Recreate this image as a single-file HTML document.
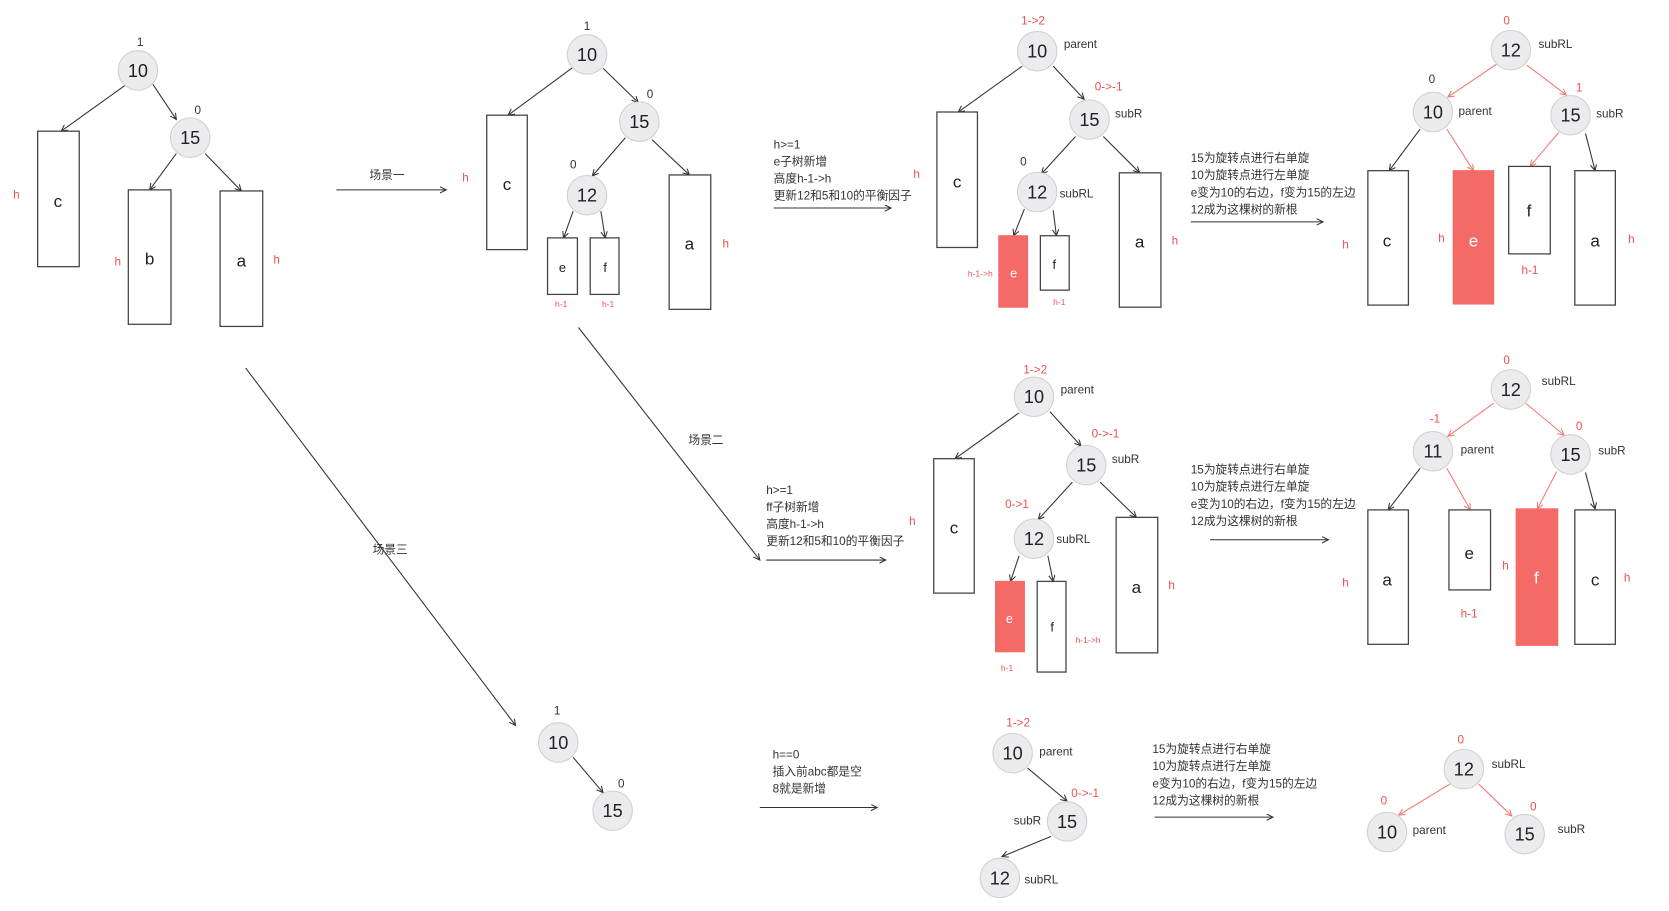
<!DOCTYPE html>
<html><head><meta charset="utf-8"><style>
html,body{margin:0;padding:0;background:#fff;}
svg{display:block;}
text{font-family:"Liberation Sans","Noto Sans CJK SC",sans-serif;}
.n{fill:#ececee;stroke:#d0d0d0;stroke-width:1;}
.nt{font-size:17px;fill:#222;text-anchor:middle;}
.r{fill:#fff;stroke:#444;stroke-width:1.2;}
.rr{fill:#f46a66;stroke:#f46a66;stroke-width:1;}
.lt{font-size:16px;fill:#222;text-anchor:middle;}
.lw{font-size:16px;fill:#fff;text-anchor:middle;}
.s{font-size:11px;fill:#333;}
.sr{font-size:11px;fill:#f05050;}
.xs{font-size:8px;fill:#f05050;}
.tx{font-size:11px;fill:#333;}
.k{stroke:#333;stroke-width:1;fill:none;marker-end:url(#ak);}
.kr{stroke:#f47a76;stroke-width:1;fill:none;marker-end:url(#ar);}
</style></head><body>
<svg width="1669" height="911" viewBox="0 0 1564 854" xmlns="http://www.w3.org/2000/svg">
<defs>
<marker id="ak" markerWidth="8" markerHeight="8" refX="6" refY="3" orient="auto" markerUnits="userSpaceOnUse"><path d="M0,0 L6,3 L0,6" fill="none" stroke="#333" stroke-width="1"/></marker>
<marker id="ar" markerWidth="8" markerHeight="8" refX="6" refY="3" orient="auto" markerUnits="userSpaceOnUse"><path d="M0,0 L6,3 L0,6" fill="none" stroke="#f47a76" stroke-width="1"/></marker>
</defs>

<!-- Tree 1 -->
<line class="k" x1="117" y1="80" x2="57" y2="123"/>
<line class="k" x1="143" y1="79" x2="165" y2="112"/>
<line class="k" x1="165" y1="144" x2="140" y2="178"/>
<line class="k" x1="192" y1="144" x2="226" y2="179"/>
<text class="s" x="128" y="43">1</text>
<circle class="n" cx="129" cy="66" r="18.5"/><text class="nt" x="129" y="72">10</text>
<text class="s" x="182" y="107">0</text>
<circle class="n" cx="178" cy="129" r="18.5"/><text class="nt" x="178" y="135">15</text>
<rect class="r" x="35" y="123" width="39" height="127"/><text class="lt" x="54" y="194">c</text>
<text class="sr" x="12" y="186">h</text>
<rect class="r" x="120" y="178" width="40" height="126"/><text class="lt" x="140" y="248">b</text>
<text class="sr" x="107" y="249">h</text>
<rect class="r" x="206" y="179" width="40" height="127"/><text class="lt" x="226" y="250">a</text>
<text class="sr" x="256" y="247">h</text>

<line class="k" x1="315" y1="178" x2="418" y2="178"/>
<text class="tx" x="346" y="168">场景一</text>

<!-- Tree 2 -->
<line class="k" x1="537" y1="63" x2="476" y2="108"/>
<line class="k" x1="565" y1="64" x2="598" y2="96"/>
<line class="k" x1="586" y1="129" x2="555" y2="165"/>
<line class="k" x1="611" y1="131" x2="646" y2="164"/>
<line class="k" x1="537" y1="198" x2="528" y2="223"/>
<line class="k" x1="563" y1="198" x2="567" y2="223"/>
<text class="s" x="547" y="28">1</text>
<circle class="n" cx="550" cy="51" r="18.5"/><text class="nt" x="550" y="57">10</text>
<text class="s" x="606" y="92">0</text>
<circle class="n" cx="599" cy="114" r="18.5"/><text class="nt" x="599" y="120">15</text>
<text class="s" x="534" y="158">0</text>
<circle class="n" cx="550" cy="183" r="18.5"/><text class="nt" x="550" y="189">12</text>
<rect class="r" x="456" y="108" width="38" height="126"/><text class="lt" x="475" y="178">c</text>
<text class="sr" x="433" y="170">h</text>
<rect class="r" x="513" y="223" width="28" height="53"/><text class="lt" x="527" y="255" style="font-size:12px">e</text>
<text class="xs" x="520" y="288">h-1</text>
<rect class="r" x="553" y="223" width="27" height="53"/><text class="lt" x="567" y="255" style="font-size:12px">f</text>
<text class="xs" x="564" y="288">h-1</text>
<rect class="r" x="627" y="164" width="39" height="126"/><text class="lt" x="646" y="234">a</text>
<text class="sr" x="677" y="232">h</text>

<g class="tx"><text x="725" y="139">h&gt;=1</text><text x="725" y="155">e子树新增</text><text x="725" y="171">高度h-1-&gt;h</text><text x="725" y="187">更新12和5和10的平衡因子</text></g>
<line class="k" x1="725" y1="195" x2="835" y2="195"/>

<!-- Tree 3 -->
<line class="k" x1="958" y1="62" x2="898" y2="105"/>
<line class="k" x1="987" y1="62" x2="1016" y2="93"/>
<line class="k" x1="1008" y1="128" x2="976" y2="163"/>
<line class="k" x1="1034" y1="128" x2="1068" y2="162"/>
<line class="k" x1="960" y1="196" x2="950" y2="221"/>
<line class="k" x1="987" y1="197" x2="990" y2="221"/>
<text class="sr" x="957" y="23">1-&gt;2</text>
<circle class="n" cx="972" cy="48" r="18.5"/><text class="nt" x="972" y="54">10</text>
<text class="s" x="997" y="45">parent</text>
<text class="sr" x="1026" y="85">0-&gt;-1</text>
<circle class="n" cx="1021" cy="112" r="18.5"/><text class="nt" x="1021" y="118">15</text>
<text class="s" x="1045" y="110">subR</text>
<text class="s" x="956" y="155">0</text>
<circle class="n" cx="972" cy="180" r="18.5"/><text class="nt" x="972" y="186">12</text>
<text class="s" x="993" y="185">subRL</text>
<rect class="r" x="878" y="105" width="38" height="127"/><text class="lt" x="897" y="176">c</text>
<text class="sr" x="856" y="167">h</text>
<rect class="rr" x="936" y="221" width="27" height="67"/><text class="lw" x="950" y="260" style="font-size:12px">e</text>
<text class="xs" x="907" y="259">h-1-&gt;h</text>
<rect class="r" x="975" y="221" width="27" height="51"/><text class="lt" x="988" y="252" style="font-size:12px">f</text>
<text class="xs" x="987" y="286">h-1</text>
<rect class="r" x="1049" y="162" width="39" height="126"/><text class="lt" x="1068" y="232">a</text>
<text class="sr" x="1098" y="229">h</text>

<g class="tx"><text x="1116" y="152">15为旋转点进行右单旋</text><text x="1116" y="168">10为旋转点进行左单旋</text><text x="1116" y="184">e变为10的右边，f变为15的左边</text><text x="1116" y="200">12成为这棵树的新根</text></g>
<line class="k" x1="1116" y1="208" x2="1240" y2="208"/>

<!-- Tree 4 -->
<line class="kr" x1="1403" y1="60" x2="1357" y2="91"/>
<line class="kr" x1="1431" y1="61" x2="1468" y2="89"/>
<line class="k" x1="1331" y1="121" x2="1302" y2="160"/>
<line class="kr" x1="1356" y1="121" x2="1381" y2="160"/>
<line class="kr" x1="1461" y1="124" x2="1434" y2="156"/>
<line class="k" x1="1486" y1="125" x2="1495" y2="160"/>
<text class="sr" x="1409" y="23">0</text>
<circle class="n" cx="1416" cy="47" r="18.5"/><text class="nt" x="1416" y="53">12</text>
<text class="s" x="1442" y="45">subRL</text>
<text class="s" x="1339" y="78">0</text>
<circle class="n" cx="1343" cy="105" r="18.5"/><text class="nt" x="1343" y="111">10</text>
<text class="s" x="1367" y="108">parent</text>
<text class="sr" x="1477" y="86">1</text>
<circle class="n" cx="1472" cy="108" r="18.5"/><text class="nt" x="1472" y="114">15</text>
<text class="s" x="1496" y="110">subR</text>
<rect class="r" x="1282" y="160" width="38" height="126"/><text class="lt" x="1300" y="231">c</text>
<text class="sr" x="1258" y="233">h</text>
<rect class="rr" x="1362" y="160" width="38" height="125"/><text class="lw" x="1381" y="231">e</text>
<text class="sr" x="1348" y="227">h</text>
<rect class="r" x="1414" y="156" width="39" height="82"/><text class="lt" x="1433" y="203">f</text>
<text class="sr" x="1426" y="257">h-1</text>
<rect class="r" x="1476" y="160" width="38" height="126"/><text class="lt" x="1495" y="231">a</text>
<text class="sr" x="1526" y="228">h</text>

<!-- scene 2 diagonal -->
<line class="k" x1="542" y1="307" x2="712" y2="525"/>
<text class="tx" x="645" y="416">场景二</text>

<!-- Tree 5 -->
<line class="k" x1="955" y1="387" x2="895" y2="430"/>
<line class="k" x1="984" y1="386" x2="1013" y2="418"/>
<line class="k" x1="1005" y1="452" x2="973" y2="487"/>
<line class="k" x1="1031" y1="452" x2="1065" y2="485"/>
<line class="k" x1="955" y1="521" x2="947" y2="545"/>
<line class="k" x1="982" y1="521" x2="987" y2="545"/>
<text class="sr" x="959" y="350">1-&gt;2</text>
<circle class="n" cx="969" cy="372" r="18.5"/><text class="nt" x="969" y="378">10</text>
<text class="s" x="994" y="369">parent</text>
<text class="sr" x="1023" y="410">0-&gt;-1</text>
<circle class="n" cx="1018" cy="436" r="18.5"/><text class="nt" x="1018" y="442">15</text>
<text class="s" x="1042" y="434">subR</text>
<text class="sr" x="942" y="476">0-&gt;1</text>
<circle class="n" cx="969" cy="505" r="18.5"/><text class="nt" x="969" y="511">12</text>
<text class="s" x="990" y="509">subRL</text>
<rect class="r" x="875" y="430" width="38" height="126"/><text class="lt" x="894" y="500">c</text>
<text class="sr" x="852" y="492">h</text>
<rect class="rr" x="933" y="545" width="27" height="66"/><text class="lw" x="946" y="584" style="font-size:12px">e</text>
<text class="xs" x="938" y="629">h-1</text>
<rect class="r" x="972" y="545" width="27" height="85"/><text class="lt" x="986" y="592" style="font-size:12px">f</text>
<text class="xs" x="1008" y="603">h-1-&gt;h</text>
<rect class="r" x="1046" y="485" width="39" height="127"/><text class="lt" x="1065" y="556">a</text>
<text class="sr" x="1095" y="552">h</text>

<g class="tx"><text x="718" y="463">h&gt;=1</text><text x="718" y="479">ff子树新增</text><text x="718" y="495">高度h-1-&gt;h</text><text x="718" y="511">更新12和5和10的平衡因子</text></g>
<line class="k" x1="718" y1="525" x2="830" y2="525"/>

<g class="tx"><text x="1116" y="444">15为旋转点进行右单旋</text><text x="1116" y="460">10为旋转点进行左单旋</text><text x="1116" y="476">e变为10的右边，f变为15的左边</text><text x="1116" y="492">12成为这棵树的新根</text></g>
<line class="k" x1="1134" y1="506" x2="1245" y2="506"/>

<!-- Tree 6 -->
<line class="kr" x1="1400" y1="378" x2="1357" y2="409"/>
<line class="kr" x1="1430" y1="378" x2="1466" y2="408"/>
<line class="k" x1="1331" y1="439" x2="1301" y2="478"/>
<line class="kr" x1="1356" y1="439" x2="1378" y2="478"/>
<line class="kr" x1="1459" y1="442" x2="1441" y2="477"/>
<line class="k" x1="1486" y1="443" x2="1495" y2="477"/>
<text class="sr" x="1409" y="341">0</text>
<circle class="n" cx="1416" cy="365" r="18.5"/><text class="nt" x="1416" y="371">12</text>
<text class="s" x="1445" y="361">subRL</text>
<text class="sr" x="1340" y="396">-1</text>
<circle class="n" cx="1343" cy="423" r="18.5"/><text class="nt" x="1343" y="429">11</text>
<text class="s" x="1369" y="425">parent</text>
<text class="sr" x="1477" y="403">0</text>
<circle class="n" cx="1472" cy="426" r="18.5"/><text class="nt" x="1472" y="432">15</text>
<text class="s" x="1498" y="426">subR</text>
<rect class="r" x="1282" y="478" width="38" height="126"/><text class="lt" x="1300" y="549">a</text>
<text class="sr" x="1258" y="550">h</text>
<rect class="r" x="1358" y="478" width="39" height="75"/><text class="lt" x="1377" y="524">e</text>
<text class="sr" x="1369" y="579">h-1</text>
<rect class="rr" x="1421" y="477" width="39" height="128"/><text class="lw" x="1440" y="547">f</text>
<text class="sr" x="1408" y="534">h</text>
<rect class="r" x="1476" y="478" width="38" height="126"/><text class="lt" x="1495" y="549">c</text>
<text class="sr" x="1522" y="545">h</text>

<!-- scene 3 diagonal -->
<line class="k" x1="230" y1="345" x2="483" y2="680"/>
<text class="tx" x="349" y="519">场景三</text>

<!-- Tree 7 -->
<line class="k" x1="537" y1="710" x2="565" y2="743"/>
<text class="s" x="519" y="670">1</text>
<circle class="n" cx="523" cy="696" r="18.5"/><text class="nt" x="523" y="702">10</text>
<text class="s" x="579" y="738">0</text>
<circle class="n" cx="574" cy="760" r="18.5"/><text class="nt" x="574" y="766">15</text>

<g class="tx"><text x="724" y="711">h==0</text><text x="724" y="727">插入前abc都是空</text><text x="724" y="743">8就是新增</text></g>
<line class="k" x1="712" y1="757" x2="822" y2="757"/>

<!-- Tree 8 -->
<line class="k" x1="963" y1="720" x2="1000" y2="751"/>
<line class="k" x1="985" y1="784" x2="939" y2="803"/>
<text class="sr" x="943" y="681">1-&gt;2</text>
<circle class="n" cx="949" cy="706" r="18.5"/><text class="nt" x="949" y="712">10</text>
<text class="s" x="974" y="708">parent</text>
<text class="sr" x="1004" y="747">0-&gt;-1</text>
<circle class="n" cx="1000" cy="770" r="18.5"/><text class="nt" x="1000" y="776">15</text>
<text class="s" x="950" y="773">subR</text>
<circle class="n" cx="937" cy="823" r="18.5"/><text class="nt" x="937" y="829">12</text>
<text class="s" x="960" y="828">subRL</text>

<g class="tx"><text x="1080" y="706">15为旋转点进行右单旋</text><text x="1080" y="722">10为旋转点进行左单旋</text><text x="1080" y="738">e变为10的右边，f变为15的左边</text><text x="1080" y="754">12成为这棵树的新根</text></g>
<line class="k" x1="1082" y1="766" x2="1193" y2="766"/>

<!-- Tree 9 -->
<line class="kr" x1="1359" y1="735" x2="1311" y2="764"/>
<line class="kr" x1="1386" y1="735" x2="1417" y2="765"/>
<text class="sr" x="1366" y="697">0</text>
<circle class="n" cx="1372" cy="721" r="18.5"/><text class="nt" x="1372" y="727">12</text>
<text class="s" x="1398" y="720">subRL</text>
<text class="sr" x="1294" y="754">0</text>
<circle class="n" cx="1300" cy="780" r="18.5"/><text class="nt" x="1300" y="786">10</text>
<text class="s" x="1324" y="782">parent</text>
<text class="sr" x="1434" y="760">0</text>
<circle class="n" cx="1429" cy="782" r="18.5"/><text class="nt" x="1429" y="788">15</text>
<text class="s" x="1460" y="781">subR</text>
</svg>
</body></html>
